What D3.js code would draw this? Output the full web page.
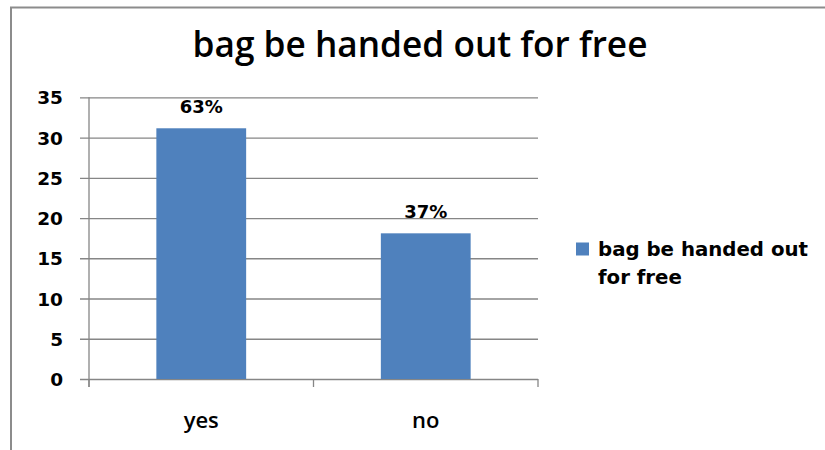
<!DOCTYPE html>
<html>
<head>
<meta charset="utf-8">
<script src="https://cdn.jsdelivr.net/npm/d3@7"></script>
<style>
  html, body { margin: 0; padding: 0; background: #fff; }
  svg { display: block; }
</style>
</head>
<body>
<svg id="chart" width="825" height="450"></svg>
<script>
const title = "bag be handed out for free";
const seriesName = "bag be handed out for free";
const legendLines = ["bag be handed out", "for free"];
const categories = ["yes", "no"];
const values = [31.15, 18.1];
const percentLabels = ["63%", "37%"];
const yTicks = [0, 5, 10, 15, 20, 25, 30, 35];

const svg = d3.select("#chart");
const W = 825, H = 450;
const plot = { left: 89, right: 538, top: 97.3, bottom: 379 };
const gridColor = "#868686";
const barColor = "#4F81BD";
const numFont = "'DejaVu Sans', Verdana, sans-serif";
const textFont = "'Open Sans', Calibri, sans-serif";

svg.append("rect").attr("width", W).attr("height", H).attr("fill", "#fff");

// outer chart border (only top and left visible)
svg.append("path")
  .attr("d", `M11,${H + 2} L11,7.5 L${W + 2},7.5`)
  .attr("fill", "none").attr("stroke", "#8c8c8c").attr("stroke-width", 2);

// title
const t = svg.append("text")
  .attr("x", 420).attr("y", 57)
  .attr("text-anchor", "middle")
  .attr("font-family", textFont).attr("font-weight", 600)
  .attr("font-size", 30).attr("fill", "#000")
  .text(title);
const tw = t.node().getComputedTextLength();
t.attr("font-size", 30 * 455 / tw);

const x = d3.scaleBand().domain(categories).range([plot.left, plot.right]).padding(0);
const y = d3.scaleLinear().domain([0, 35]).range([plot.bottom, plot.top]);
const barW = x.bandwidth() / 2.5;

// gridlines + y axis
const yAxis = d3.axisLeft(y).tickValues(yTicks).tickSize(-(plot.right - plot.left)).tickPadding(0).tickFormat(d3.format("d"));
const gy = svg.append("g").attr("transform", `translate(${plot.left},0)`).call(yAxis);
gy.select(".domain").remove();
gy.selectAll(".tick line")
  .attr("x1", -9).attr("x2", plot.right - plot.left)
  .attr("stroke", gridColor).attr("stroke-width", 1.3);
gy.selectAll(".tick text")
  .attr("x", -26).attr("dy", "0.36em")
  .attr("font-family", numFont).attr("font-weight", "bold")
  .attr("font-size", 18.5).attr("fill", "#000");

// vertical axis line
svg.append("line")
  .attr("x1", plot.left).attr("x2", plot.left)
  .attr("y1", plot.top).attr("y2", plot.bottom + 8)
  .attr("stroke", gridColor).attr("stroke-width", 1.3);

// category axis ticks
const boundaries = [plot.left].concat(categories.map(c => x(c) + x.bandwidth()));
svg.selectAll("line.ctick").data(boundaries).enter().append("line")
  .attr("class", "ctick")
  .attr("x1", d => d).attr("x2", d => d)
  .attr("y1", plot.bottom).attr("y2", plot.bottom + 8)
  .attr("stroke", gridColor).attr("stroke-width", 1.3);

// bars
svg.selectAll("rect.bar").data(values).enter().append("rect")
  .attr("class", "bar")
  .attr("x", (d, i) => x(categories[i]) + (x.bandwidth() - barW) / 2)
  .attr("y", d => y(d))
  .attr("width", barW)
  .attr("height", d => y(0) - y(d))
  .attr("fill", barColor);

// data labels
svg.selectAll("text.dl").data(values).enter().append("text")
  .attr("class", "dl")
  .attr("x", (d, i) => x(categories[i]) + x.bandwidth() / 2)
  .attr("y", d => y(d) - 15)
  .attr("text-anchor", "middle")
  .attr("font-family", numFont).attr("font-weight", "bold")
  .attr("font-size", 18).attr("fill", "#000")
  .text((d, i) => percentLabels[i]);

// category labels
svg.selectAll("text.cat").data(categories).enter().append("text")
  .attr("class", "cat")
  .attr("x", d => x(d) + x.bandwidth() / 2)
  .attr("y", 428)
  .attr("text-anchor", "middle")
  .attr("font-family", textFont).attr("font-weight", 600)
  .attr("font-size", 22).attr("fill", "#000")
  .text(d => d);

// legend
svg.append("rect")
  .attr("x", 576).attr("y", 242.5).attr("width", 13).attr("height", 13)
  .attr("fill", barColor);
const lt = svg.append("text")
  .attr("font-family", numFont).attr("font-weight", "bold")
  .attr("font-size", 18).attr("fill", "#000");
const ts1 = lt.append("tspan").attr("x", 598).attr("y", 256).text(legendLines[0]);
lt.append("tspan").attr("x", 598).attr("y", 284).text(legendLines[1]);
const lw = ts1.node().getComputedTextLength();
lt.attr("font-size", 18 * 210 / lw);
</script>
</body>
</html>
